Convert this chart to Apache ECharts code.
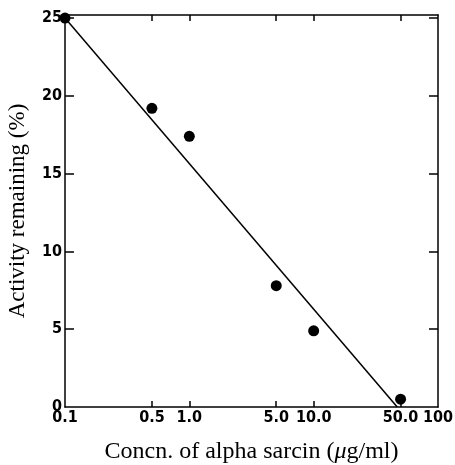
<!DOCTYPE html>
<html>
<head>
<meta charset="utf-8">
<script src="https://cdn.jsdelivr.net/npm/echarts@6/dist/echarts.min.js"></script>
<style>html,body{margin:0;padding:0;background:#fff}#c{width:455px;height:465px}</style>
</head>
<body>
<div id="c"></div>
<script>
const xTicks = [0.1, 0.5, 1, 5, 10, 50, 100];
const xTickLabels = ['0.1', '0.5', '1.0', '5.0', '10.0', '50.0', '100'];
const yTicks = [0, 5, 10, 15, 20, 25];
const concn = [0.1, 0.5, 1.0, 5.0, 10.0, 50.0];
const activity = [25, 19.2, 17.4, 7.8, 4.9, 0.5];
const fitX = [0.1, 47];
const fitY = [25, 0];

const labelFont = {fontFamily: 'DejaVu Sans Condensed', fontWeight: 'bold', fontSize: 16, color: '#000'};
const chart = echarts.init(document.getElementById('c'), null, {renderer: 'canvas'});
const axisLineStyle = {color: '#000', width: 1.5};
const xLabelFmt = v => {
  const i = xTicks.findIndex(t => Math.abs(t - v) < 1e-9 * Math.max(1, t));
  return i >= 0 ? xTickLabels[i] : '';
};
chart.setOption({
  animation: false,
  grid: {left: 65, right: 17, top: 15, bottom: 58, containLabel: false, outerBoundsMode: 'none'},
  xAxis: [{
    type: 'log', logBase: 10, min: 0.1, max: 100, position: 'bottom',
    name: '{t|Concn. of alpha sarcin (}{i|μ}{t|g/ml)}', nameLocation: 'middle', nameGap: 33,
    nameTextStyle: {rich: {
      t: {fontFamily: 'Liberation Serif', fontSize: 24, color: '#000'},
      i: {fontFamily: 'Liberation Serif', fontSize: 24, fontStyle: 'italic', color: '#000'}
    }},
    axisLine: {show: true, onZero: false, lineStyle: axisLineStyle},
    axisTick: {show: true, inside: true, length: 6, lineStyle: axisLineStyle, customValues: xTicks.slice(1, -1)},
    axisLabel: Object.assign({margin: 3, customValues: xTicks, formatter: xLabelFmt}, labelFont),
    minorTick: {show: false}, splitLine: {show: false}
  }, {
    type: 'log', logBase: 10, min: 0.1, max: 100, position: 'top',
    axisLine: {show: true, onZero: false, lineStyle: axisLineStyle},
    axisTick: {show: true, inside: true, length: 6, lineStyle: axisLineStyle, customValues: xTicks.slice(1, -1)},
    axisLabel: {show: false}, splitLine: {show: false}
  }],
  yAxis: [{
    type: 'value', min: 0, max: 25.2, interval: 5, position: 'left',
    name: 'Activity remaining (%)', nameLocation: 'middle', nameGap: 36,
    nameTextStyle: {fontFamily: 'Liberation Serif', fontSize: 23, color: '#000'},
    axisLine: {show: true, onZero: false, lineStyle: axisLineStyle},
    axisTick: {show: true, inside: true, length: 9, lineStyle: axisLineStyle, customValues: yTicks.slice(1)},
    axisLabel: Object.assign({margin: 3, customValues: yTicks}, labelFont),
    splitLine: {show: false}
  }, {
    type: 'value', min: 0, max: 25.2, interval: 5, position: 'right',
    axisLine: {show: true, onZero: false, lineStyle: axisLineStyle},
    axisTick: {show: true, inside: true, length: 9, lineStyle: axisLineStyle, customValues: yTicks.slice(1)},
    axisLabel: {show: false}, splitLine: {show: false}
  }],
  series: [{
    type: 'line', data: fitX.map((x, i) => [x, fitY[i]]), showSymbol: false, symbol: 'none',
    lineStyle: {color: '#000', width: 1.5}, z: 2
  }, {
    type: 'scatter', data: concn.map((x, i) => [x, activity[i]]), symbol: 'circle', symbolSize: 11,
    itemStyle: {color: '#000', opacity: 1}, z: 3
  }]
});
</script>
</body>
</html>
